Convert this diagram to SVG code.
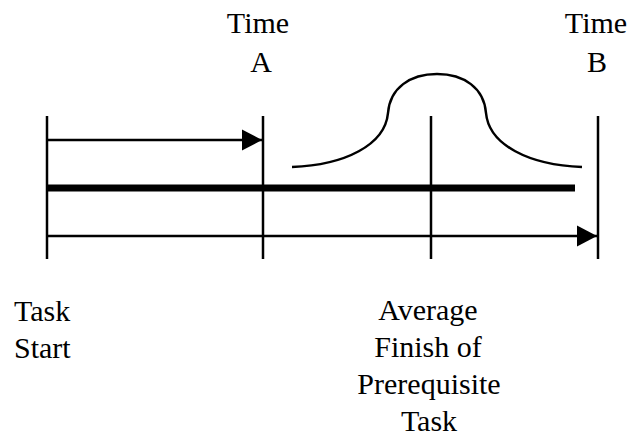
<svg xmlns="http://www.w3.org/2000/svg" width="631" height="438" viewBox="0 0 631 438">
<style>
.t{font-family:"Liberation Serif","Times New Roman",serif;font-size:30px;fill:#000}
.c{text-anchor:middle}
.ln{stroke:#000;stroke-width:2.5;fill:none}
</style>
<defs>
<marker id="ah" markerUnits="userSpaceOnUse" markerWidth="22" markerHeight="24" refX="21" refY="12" orient="auto">
<path d="M1,1.5 L21,12 L1,22.5 Z" fill="#000"/>
</marker>
</defs>
<rect width="631" height="438" fill="#fff"/>
<g id="markers">
<line class="ln" x1="47" y1="116" x2="47" y2="259"/>
<line class="ln" x1="263" y1="116" x2="263" y2="259"/>
<line class="ln" x1="431" y1="116" x2="431" y2="259"/>
<line class="ln" x1="598" y1="116" x2="598" y2="259"/>
</g>
<g id="connectors">
<line class="ln" x1="47" y1="140" x2="262" y2="140" marker-end="url(#ah)"/>
<line x1="47" y1="188" x2="575" y2="188" stroke="#000" stroke-width="7"/>
<line class="ln" x1="47" y1="236" x2="597" y2="236" marker-end="url(#ah)"/>
</g>
<g id="curve">
<path class="ln" d="M292,167 C345,165 385,145 388,113 C390,88 410,74 437,74 C464,74 484,88 486,113 C489,145 529,165 582,167"/>
</g>
<g id="timeA">
<text class="t c" x="258" y="33">Time</text>
<text class="t c" x="261" y="72">A</text>
</g>
<g id="timeB">
<text class="t c" x="596" y="33">Time</text>
<text class="t c" x="597" y="72">B</text>
</g>
<g id="taskStart">
<text class="t" x="14" y="321">Task</text>
<text class="t" x="14" y="358">Start</text>
</g>
<g id="avgFinish">
<text class="t c" x="428" y="320">Average</text>
<text class="t c" x="428" y="357">Finish of</text>
<text class="t c" x="429" y="394">Prerequisite</text>
<text class="t c" x="429" y="431">Task</text>
</g>
</svg>
